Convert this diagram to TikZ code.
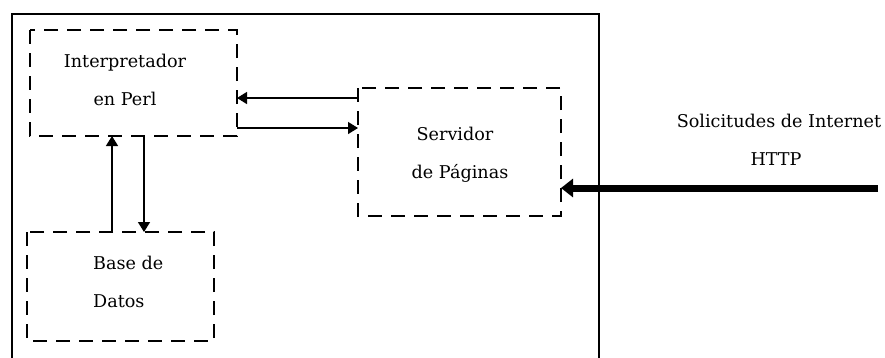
\documentclass[tikz,border=0pt]{standalone}
\usepackage{fontspec}
\setmainfont{DejaVu Serif}
\usetikzlibrary{arrows.meta}
\begin{document}
\begin{tikzpicture}[x=1pt,y=-1pt,
  dbox/.style={draw, line width=1.5pt, dash pattern=on 14pt off 9pt},
  lbl/.style={font=\fontsize{17.6}{19}\selectfont, inner sep=0pt, anchor=base},
  conn/.style={line width=1.4pt, -{Triangle[length=10pt,width=12pt]}},
  bigconn/.style={line width=7pt, -{Triangle[length=12pt,width=18pt]}}]
\useasboundingbox (0,0) rectangle (885,357);
\begin{scope}
\clip (0,0) rectangle (885,357);
\draw[line width=1.8pt] (12,370) -- (12,14) -- (599,14) -- (599,370);
\end{scope}
% boxes
\draw[dbox] (30,30) rectangle (237,136);
\draw[dbox] (27,232) rectangle (214,341);
\draw[dbox] (358,88) rectangle (561,216);
% texts
\node[lbl] (t1) at (125,67) {Interpretador};
\node[lbl] (t2) at (125,105) {en Perl};
\node[lbl, anchor=base west] (t3) at (93,269) {Base de};
\node[lbl, anchor=base west] (t4) at (93,307) {Datos};
\node[lbl] (t5) at (455,140) {Servidor};
\node[lbl] (t6) at (460,178) {de Páginas};
\node[lbl] (t7) at (779,127) {Solicitudes de Internet};
\node[lbl] (t8) at (776,165) {HTTP};
% connectors
\coordinate (a1) at (358,98);
\coordinate (a2) at (237,98);
\coordinate (b1) at (237,128);
\coordinate (b2) at (358,128);
\coordinate (c1) at (112,232);
\coordinate (c2) at (112,136);
\coordinate (d1) at (144,136);
\coordinate (d2) at (144,232);
\coordinate (e1) at (878,188);
\coordinate (e2) at (561,188);
\draw[conn] (a1) -- (a2);
\draw[conn] (b1) -- (b2);
\draw[conn] (c1) -- (c2);
\draw[conn] (d1) -- (d2);
\draw[bigconn] (e1) -- (e2);
\end{tikzpicture}
\end{document}
